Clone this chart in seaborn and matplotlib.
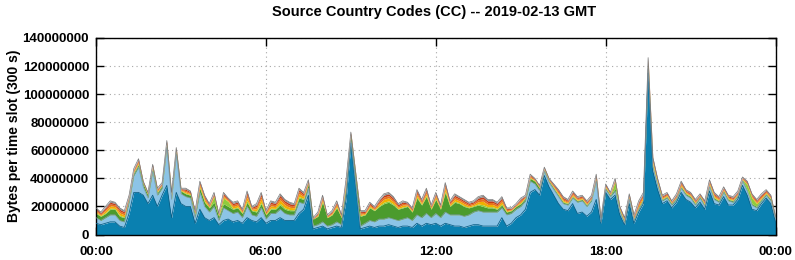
import numpy as np
import pandas as pd
import matplotlib
matplotlib.use("Agg")
import matplotlib.pyplot as plt
import seaborn as sns
from matplotlib.ticker import FuncFormatter

# 5-minute slots read at 10-minute steps, 00:00 .. 24:00, values in millions of bytes
total = [19, 16, 20, 24, 23, 19, 17, 28, 47, 54, 38, 30,
         50, 33, 37, 67, 30, 62, 33, 33, 31, 17, 38, 28,
         22, 30, 15, 30, 26, 23, 24, 18, 31, 20, 22, 30,
         17, 24, 23, 29, 25, 23, 22, 33, 30, 39, 12, 16,
         28, 14, 17, 24, 14, 40, 73, 45, 17, 17, 23, 20,
         25, 29, 30, 27, 22, 24, 23, 19, 32, 25, 33, 21,
         30, 21, 37, 24, 29, 27, 25, 23, 24, 27, 28, 25,
         25, 23, 27, 19, 19, 22, 26, 28, 43, 40, 35, 48,
         40, 36, 32, 27, 25, 31, 27, 28, 24, 28, 43, 12,
         36, 30, 40, 20, 12, 29, 14, 24, 30, 126, 55, 40,
         28, 30, 24, 29, 38, 32, 30, 25, 29, 24, 39, 30,
         27, 34, 28, 27, 31, 41, 38, 29, 25, 29, 32, 28,
         13]

dark_blue = [8, 7, 8, 9, 9, 6, 5, 15, 30, 30, 28, 22,
             28, 20, 28, 35, 12, 30, 22, 20, 20, 8, 18, 12,
             10, 12, 7, 10, 11, 9, 10, 8, 12, 10, 9, 12,
             8, 10, 10, 12, 10, 10, 10, 15, 18, 28, 4, 5,
             6, 4, 5, 6, 5, 25, 65, 35, 4, 5, 6, 5,
             6, 6, 7, 6, 5, 6, 6, 5, 8, 6, 8, 7,
             8, 6, 8, 7, 6, 6, 5, 6, 7, 7, 6, 6,
             6, 6, 12, 6, 8, 12, 14, 18, 30, 32, 28, 42,
             34, 28, 22, 18, 17, 22, 15, 16, 13, 16, 25, 8,
             30, 25, 28, 14, 7, 22, 8, 16, 22, 115, 45, 32,
             22, 24, 19, 23, 30, 25, 23, 19, 23, 18, 31, 22,
             21, 27, 21, 21, 25, 35, 28, 18, 17, 22, 26, 22,
             9]

light_blue = [4, 3, 4, 5, 5, 4, 4, 8, 12, 18, 6, 4,
              17, 8, 5, 27, 13, 27, 7, 7, 6, 4, 12, 8,
              6, 8, 3, 9, 6, 6, 6, 4, 8, 4, 4, 7,
              3, 5, 5, 6, 5, 4, 4, 8, 4, 5, 2, 2,
              3, 2, 2, 3, 2, 4, 2, 2, 2, 3, 4, 4,
              5, 5, 5, 5, 5, 5, 6, 5, 6, 6, 7, 5,
              7, 6, 8, 7, 8, 8, 8, 8, 9, 10, 10, 10,
              10, 10, 7, 8, 7, 6, 6, 6, 8, 4, 3, 3,
              3, 4, 5, 4, 4, 4, 8, 8, 7, 8, 13, 1,
              2, 2, 3, 2, 1, 3, 2, 2, 2, 3, 3, 3,
              2, 2, 2, 2, 3, 3, 3, 2, 3, 2, 3, 3,
              2, 3, 3, 2, 2, 3, 3, 3, 2, 2, 2, 2,
              2]

dark_green = [3, 3, 3, 4, 4, 3, 3, 2, 2, 2, 2, 2,
              2, 2, 2, 2, 2, 2, 2, 2, 2, 2, 3, 3,
              3, 3, 3, 3, 3, 3, 3, 3, 3, 3, 3, 3,
              3, 3, 3, 3, 3, 3, 3, 3, 3, 3, 5, 6,
              14, 6, 7, 10, 5, 6, 3, 4, 7, 6, 9, 8,
              9, 11, 11, 10, 8, 8, 8, 6, 12, 9, 12, 6,
              10, 6, 14, 6, 9, 8, 7, 5, 4, 4, 4, 3,
              3, 2, 2, 2, 2, 2, 2, 2, 2, 2, 2, 1,
              1, 1, 1, 1, 1, 1, 1, 1, 1, 1, 1, 1,
              1, 1, 2, 1, 1, 1, 1, 1, 1, 2, 1, 1,
              1, 1, 1, 1, 1, 1, 1, 1, 1, 1, 1, 1,
              1, 1, 1, 1, 1, 1, 1, 1, 1, 1, 1, 1,
              1]

light_green = [.5, .4, .6, .8, .6, .8, .6, .4, .4, .5, .2, .2,
               .4, .4, .2, .4, .4, .4, .2, .5, .4, .4, .6, .6,
               .4, 4, .2, 4, 3.5, .6, .6, .4, 1.2, .4, .8, 1.2,
               .4, .8, .6, 1.2, 1, .8, .6, 1, .6, .4, .1, .4,
               .6, .2, .4, .6, .2, .6, .4, .5, .5, .4, .5, .4,
               .6, 1, 1, .8, .5, .6, .4, .4, .8, .5, .8, .4,
               .6, .4, 1, .5, .8, .6, .6, .5, .5, .8, 1.2, .8,
               .8, .6, .8, .4, .2, .2, .5, .2, .4, .2, .2, .2,
               .2, .4, .5, .5, .4, .5, .4, .4, .4, .4, .5, .2,
               .4, .2, 4.5, .4, .4, .4, .4, .6, .6, .8, .8, .5,
               .4, .4, .2, .4, .5, .4, .4, .4, .2, .4, .5, .5,
               .4, .4, .4, .4, .4, .2, 3.5, 4, 2, .5, .4, .4,
               .1]

orange = [1, .7, 1.2, 1.4, 1.2, 1.4, 1.2, .7, .7, 1, .5, .5,
          .7, .7, .5, .7, .7, .7, .5, 1, .7, .7, 1.2, 1.2,
          .7, .9, .5, 1.2, .8, 1.2, 1.2, .7, 1.8, .7, 1.4, 1.8,
          .7, 1.4, 1.2, 1.8, 1.6, 1.4, 1.2, 1.6, 1.2, .7, .3, .7,
          1.2, .5, .7, 1.2, .5, 1.2, .7, 1, 1, .7, 1, .7,
          1.2, 1.6, 1.6, 1.4, 1, 1.2, .7, .7, 1.4, 1, 1.4, .7,
          1.2, .7, 1.6, 1, 1.4, 1.2, 1.2, 1, 1, 1.4, 1.8, 1.4,
          1.4, 1.2, 1.4, .7, .5, .5, 1, .5, .7, .5, .5, .5,
          .5, .7, 1, 1, .7, 1, .7, .7, .7, .7, 1, .5,
          .7, .5, .8, .7, .7, .7, .7, 1.2, 1.2, 1.4, 1.4, 1,
          .7, .7, .5, .7, 1, .7, .7, .7, .5, .7, 1, 1,
          .7, .7, .7, .7, .7, .5, .8, .9, .9, 1, .7, .7,
          .3]

red = [.9, .7, 1, 1.2, 1, 1.2, 1, .7, .7, .9, .5, .5,
       .7, .7, .5, .7, .7, .7, .5, .9, .7, .7, 1, 1,
       .7, .8, .5, 1, .7, 1, 1, .7, 1.4, .7, 1.2, 1.4,
       .7, 1.2, 1, 1.4, 1.3, 1.2, 1, 1.3, 1, .7, .3, .7,
       1, .5, .7, 1, .5, 1, .7, .9, .9, .7, .9, .7,
       1, 1.3, 1.3, 1.2, .9, 1, .7, .7, 1.2, .9, 1.2, .7,
       1, .7, 1.3, .9, 1.2, 1, 1, .9, .9, 1.2, 1.4, 1.2,
       1.2, 1, 1.2, .7, .5, .5, .9, .5, .7, .5, .5, .5,
       .5, .7, .9, .9, .7, .9, .7, .7, .7, .7, .9, .5,
       .7, .5, .7, .7, .7, .7, .7, 1, 1, 1.2, 1.2, .9,
       .7, .7, .5, .7, .9, .7, .7, .7, .5, .7, .9, .9,
       .7, .7, .7, .7, .7, .5, .7, .8, .8, .9, .7, .7,
       .3]

grey = [.7, .6, .8, 1, .8, 1, .8, .6, .6, .7, .4, .4,
        .6, .6, .4, .6, .6, .6, .4, .7, .6, .6, .8, .8,
        .6, .6, .4, .8, .5, .8, .8, .6, 1.1, .6, 1, 1.1,
        .6, 1, .8, 1.1, 1, 1, .8, 1, .8, .6, .3, .6,
        .8, .4, .6, .8, .4, .8, .6, .7, .7, .6, .7, .6,
        .8, 1, 1, 1, .7, .8, .6, .6, 1, .7, 1, .6,
        .8, .6, 1, .7, 1, .8, .8, .7, .7, 1, 1.1, 1,
        1, .8, 1, .6, .4, .4, .7, .4, .6, .4, .4, .4,
        .4, .6, .7, .7, .6, .7, .6, .6, .6, .6, .7, .4,
        .6, .4, .5, .6, .6, .6, .6, .8, .8, 1, 1, .7,
        .6, .6, .4, .6, .7, .6, .6, .6, .4, .6, .7, .7,
        .6, .6, .6, .6, .6, .4, .5, .6, .6, .7, .6, .6,
        .3]

x_labels = ["00:00", "06:00", "12:00", "18:00", "00:00"]

df = pd.DataFrame({
    "hour": np.arange(len(total)) / 6,
    "dark_blue": dark_blue, "light_blue": light_blue, "dark_green": dark_green,
    "light_green": light_green,
})
known = np.array(dark_blue) + np.array(light_blue) + np.array(dark_green) \
    + np.array(light_green) + np.array(orange) + np.array(red) + np.array(grey)
df["yellow"] = np.clip(np.array(total) - known, 0, None)
df["orange"] = orange
df["red"] = red
df["grey"] = grey

layers = ["dark_blue", "light_blue", "dark_green", "light_green", "yellow", "orange", "red", "grey"]
colors = ["#0a80b0", "#8cc4e6", "#4b9b2d", "#8fcb3c", "#f0b000", "#e8731a", "#c63a16", "#8c8c8c"]

sns.set_style("ticks")
plt.rcParams["font.family"] = ["Liberation Sans", "DejaVu Sans"]
plt.rcParams["font.weight"] = "bold"
plt.rcParams["text.color"] = "black"
plt.rcParams["axes.labelcolor"] = "black"

fig = plt.figure(figsize=(7.95, 2.6), dpi=100)
ax = fig.add_axes([0.1208, 0.098, 0.8547, 0.756])

ax.stackplot(df["hour"], [df[c] * 1e6 for c in layers], colors=colors, linewidth=0, zorder=2)

# edge lines like the gnuplot borders
cum_blue = df["dark_blue"] * 1e6
cum_light = (df["dark_blue"] + df["light_blue"]) * 1e6
sns.lineplot(x=df["hour"], y=cum_blue, color="#0b5f86", linewidth=0.6, ax=ax, zorder=3)
sns.lineplot(x=df["hour"], y=cum_light, color="#7f9cae", linewidth=0.5, ax=ax, zorder=3)
sns.lineplot(x=df["hour"], y=np.array(total) * 1e6, color="#777777", linewidth=0.5, ax=ax, zorder=3)

ax.set_xlim(0, 24)
ax.set_ylim(0, 140e6)
ax.set_xticks([0, 6, 12, 18, 24])
ax.set_xticklabels(x_labels)
ax.set_yticks(np.arange(0, 140e6 + 1, 20e6))
ax.yaxis.set_major_formatter(FuncFormatter(lambda v, p: f"{int(v)}"))
ax.grid(True, linestyle=(0, (1, 3)), color="#a8a8a8", linewidth=0.8)
ax.set_axisbelow(True)
ax.tick_params(direction="in", length=6, width=1, top=True, right=True,
               labelsize=9.5, colors="black")
ax.tick_params(axis="x", pad=8)
ax.tick_params(axis="y", pad=5)
for s in ax.spines.values():
    s.set_color("black")
    s.set_linewidth(1)

ax.set_xlabel("")
ax.set_ylabel("Bytes per time slot (300 s)", fontsize=10, fontweight="bold", color="black")
ax.yaxis.set_label_coords(-0.11, 0.5)
fig.text(0.546, 0.955, "Source Country Codes (CC) -- 2019-02-13 GMT",
         ha="center", va="center", fontsize=10.5, fontweight="bold", color="black")

fig.savefig("out.png", dpi=100)
